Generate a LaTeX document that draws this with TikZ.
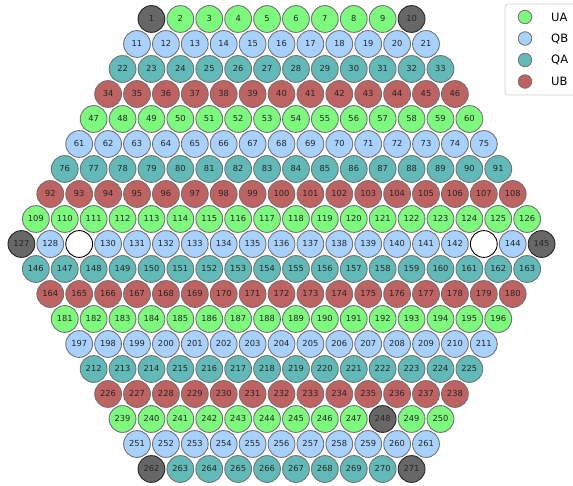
\documentclass[tikz,border=0pt]{standalone}
\usepackage{fontspec}
\setmainfont{DejaVu Sans}
\definecolor{uagreen}{HTML}{7DFA7D}
\definecolor{qbblue}{HTML}{A8D1FE}
\definecolor{qateal}{HTML}{62BAB8}
\definecolor{ubred}{HTML}{BE6262}
\definecolor{deadgray}{HTML}{676767}
\definecolor{edgegray}{HTML}{727272}
\definecolor{legendedge}{HTML}{D0D0D0}
\newcount\cellno
\tikzset{
  cell/.style={circle, draw=edgegray, line width=0.9pt, minimum size=26.8pt,
    inner sep=0pt, text=black!85, font=\fontsize{8.3}{9}\selectfont,
    text height=5.9pt, text depth=0pt},
  uacell/.style={cell, fill=uagreen},
  qbcell/.style={cell, fill=qbblue},
  qacell/.style={cell, fill=qateal},
  ubcell/.style={cell, fill=ubred},
  graycell/.style={cell, fill=deadgray, draw=black!85},
  emptycell/.style={cell, fill=white, draw=black},
  legendbox/.style={draw=legendedge, fill=white, rounded corners=3pt, line width=0.8pt},
  legmark/.style={circle, draw=edgegray, line width=0.8pt, minimum size=13.5pt, inner sep=0pt},
  legtext/.style={anchor=west, inner sep=0pt, font=\fontsize{11.5}{13}\selectfont, text=black}
}
\begin{document}
\begin{tikzpicture}[x=1pt,y=-1pt]
\clip (0,0) rectangle (573,486);
\global\cellno=0
\foreach \r in {0,...,18}{
  \pgfmathtruncatemacro{\n}{19-abs(\r-9)}
  \pgfmathtruncatemacro{\m}{mod(\r,4)}
  \pgfmathtruncatemacro{\last}{\n-1}
  \foreach \i in {0,...,\last}{
    \global\advance\cellno by 1
    \edef\k{\the\cellno}
    \pgfmathsetmacro{\cx}{281.5+(\i-(\n-1)/2)*28.9}
    \pgfmathsetmacro{\cy}{19+\r*25}
    \ifcase\m \def\sty{uacell}\or \def\sty{qbcell}\or \def\sty{qacell}\else \def\sty{ubcell}\fi
    \def\lbl{\k}
    \ifnum\k=1 \def\sty{graycell}\fi
    \ifnum\k=10 \def\sty{graycell}\fi
    \ifnum\k=127 \def\sty{graycell}\fi
    \ifnum\k=145 \def\sty{graycell}\fi
    \ifnum\k=248 \def\sty{graycell}\fi
    \ifnum\k=262 \def\sty{graycell}\fi
    \ifnum\k=271 \def\sty{graycell}\fi
    \ifnum\k=129 \def\sty{emptycell}\def\lbl{}\fi
    \ifnum\k=143 \def\sty{emptycell}\def\lbl{}\fi
    \node[\sty] (c\k) at (\cx,\cy) {\lbl};
  }
}
% legend
\draw[legendbox] (505,4) rectangle (590,95);
\node[legmark, fill=uagreen] (mUA) at (525,17) {};
\node[legmark, fill=qbblue] (mQB) at (525,38.5) {};
\node[legmark, fill=qateal] (mQA) at (525,60) {};
\node[legmark, fill=ubred] (mUB) at (525,81.5) {};
\node[legtext] (tUA) at (551,17) {UA};
\node[legtext] (tQB) at (551,38.5) {QB};
\node[legtext] (tQA) at (551,60) {QA};
\node[legtext] (tUB) at (551,81.5) {UB};
\end{tikzpicture}
\end{document}
